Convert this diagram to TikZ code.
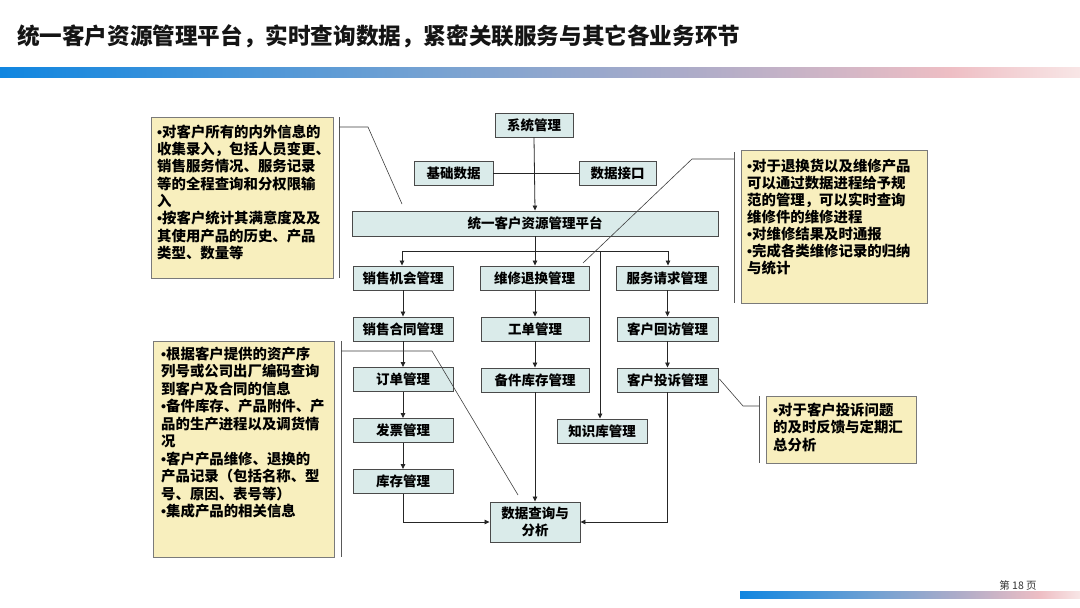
\documentclass[tikz,border=0pt]{standalone}
\usepackage{fontspec}
\usetikzlibrary{arrows.meta}
\setmainfont{Liberation Sans}
\newfontfamily\cjk{Noto Sans CJK SC}
\newfontfamily\latinf{Liberation Sans}
\newcommand\bul{{\latinf\char"2022}}
\definecolor{boxfill}{HTML}{DAEBEA}
\definecolor{boxline}{HTML}{4A4A4A}
\definecolor{notefill}{HTML}{F8EFBE}
\definecolor{noteline}{HTML}{7A7A7A}
\definecolor{barA}{RGB}{16,134,224}
\definecolor{barB}{RGB}{118,162,210}
\definecolor{barC}{RGB}{175,172,200}
\definecolor{barD}{RGB}{238,190,196}
\definecolor{barE}{RGB}{248,230,230}
\begin{document}
\begin{tikzpicture}[x=1pt,y=-1pt,
  box/.style={draw=boxline, line width=0.9pt, fill=boxfill, inner sep=0pt,
    font=\cjk\bfseries\fontsize{13.5}{17}\selectfont, minimum height=24pt, align=center},
  note/.style={draw=noteline, line width=0.9pt, fill=notefill},
  notetext/.style={anchor=base west, inner sep=0pt, font=\cjk\bfseries\fontsize{14.4}{17}\selectfont},
  conn/.style={draw=black!85, line width=0.8pt},
  arr/.style={conn, -{Triangle[length=5pt,width=4.5pt]}},
  leader/.style={draw=black!75, line width=0.6pt},
  bracket/.style={draw=black!65, line width=1pt}]
\useasboundingbox (0,0) rectangle (1080,608);
\fill[white] (0,0) rectangle (1080,608);

% title and bars
\node[anchor=west, inner sep=0pt, font=\cjk\bfseries\fontsize{22.6}{26}\selectfont, text=black!92] (title) at (17,36)
  {统一客户资源管理平台，实时查询数据，紧密关联服务与其它各业务环节};
\shade[left color=barA, right color=barB] (0,67.5) rectangle (430.5,77);
\shade[left color=barB, right color=barC] (430,67.5) rectangle (700.5,77);
\shade[left color=barC, right color=barD] (700,67.5) rectangle (950.5,77);
\shade[left color=barD, right color=barE] (950,67.5) rectangle (1080,77);

\shade[left color=barA, right color=barB] (740,591) rectangle (880.5,598);
\shade[left color=barB, right color=barC] (880,591) rectangle (960.5,598);
\shade[left color=barC, right color=barD] (960,591) rectangle (1040.5,598);
\shade[left color=barD, right color=barE] (1040,591) rectangle (1080,598);
\node[inner sep=0pt, font=\cjk\fontsize{10.5}{12}\selectfont, text=black!80] (pg) at (1018,585) {第 18 页};

% boxes
\node[box, minimum width=78pt] (sys) at (534,125) {系统管理};
\node[box, minimum width=79pt] (base) at (453.5,173) {基础数据};
\node[box, minimum width=77pt] (iface) at (617.5,173) {数据接口};
\node[box, minimum width=366pt, minimum height=25pt] (plat) at (535,223.5) {统一客户资源管理平台};
\node[box, minimum width=100pt] (sale) at (403,278) {销售机会管理};
\node[box, minimum width=109pt] (repair) at (534.5,278) {维修退换管理};
\node[box, minimum width=102pt] (svcreq) at (667,278) {服务请求管理};
\node[box, minimum width=100pt] (contract) at (403,329) {销售合同管理};
\node[box, minimum width=108pt] (work) at (535,329) {工单管理};
\node[box, minimum width=101pt] (visit) at (667.5,329) {客户回访管理};
\node[box, minimum width=100pt] (order) at (403,379.5) {订单管理};
\node[box, minimum width=108pt] (spare) at (535,380) {备件库存管理};
\node[box, minimum width=101pt] (complaint) at (667.5,380) {客户投诉管理};
\node[box, minimum width=100pt] (invoice) at (403,430.5) {发票管理};
\node[box, minimum width=90pt] (know) at (602,431) {知识库管理};
\node[box, minimum width=100pt] (stock) at (403,481.5) {库存管理};
\node[box, minimum width=90pt, minimum height=40pt] (query) at (535,522) {数据查询与\\分析};

% connectors
\draw[conn] (base.east) -- (iface.west);
\draw[arr] (sys.south) -- (plat.north);
\coordinate (j) at (535,251);
\coordinate (jl) at (402,251);
\coordinate (jr) at (668,251);
\coordinate (jk) at (600,251);
\draw[conn] (plat.south) -- (j);
\draw[conn] (jl) -- (jr);
\draw[arr] (jl) -- (sale.north -| jl);
\draw[arr] (j) -- (repair.north -| j);
\draw[arr] (jr) -- (svcreq.north -| jr);
\draw[arr] (jk) -- (know.north -| jk);
\draw[arr] (sale) -- (contract);
\draw[arr] (contract) -- (order);
\draw[arr] (order) -- (invoice);
\draw[arr] (invoice) -- (stock);
\draw[arr] (work.north |- repair.south) -- (work);
\draw[arr] (work) -- (spare);
\draw[arr] (spare) -- (query);
\draw[arr] (svcreq.south -| visit) -- (visit);
\draw[arr] (visit) -- (complaint);
\draw[arr] (stock.south) |- (query.west);
\draw[arr] (complaint.south) |- (query.east);

% callout boxes
\node[note, minimum width=182pt, minimum height=161pt, inner sep=0pt] (ntl) at (242,197.5) {};
\node[note, minimum width=186pt, minimum height=153pt, inner sep=0pt] (ntr) at (834,226.5) {};
\node[note, minimum width=181pt, minimum height=216pt, inner sep=0pt] (nbl) at (243.5,449) {};
\node[note, minimum width=150pt, minimum height=67pt, inner sep=0pt] (nbr) at (841,429.5) {};

% brackets and leaders
\coordinate (btl1) at (339,117); \coordinate (btl2) at (339,278);
\draw[bracket] (btl1) -- (btl2);
\coordinate (ltl0) at (339,127); \coordinate (ltl1) at (368,127); \coordinate (ltl2) at (402,204);
\draw[leader] (ltl0) -- (ltl1) -- (ltl2);

\coordinate (btr1) at (734,152); \coordinate (btr2) at (734,303);
\draw[bracket] (btr1) -- (btr2);
\coordinate (ltr0) at (734,159); \coordinate (ltr1) at (692,159); \coordinate (ltr2) at (583,263);
\draw[leader] (ltr0) -- (ltr1) -- (ltr2);

\coordinate (bbl1) at (341,341); \coordinate (bbl2) at (341,557);
\draw[bracket] (bbl1) -- (bbl2);
\coordinate (lbl0) at (341,351); \coordinate (lbl1) at (432,351); \coordinate (lbl2) at (518,495);
\draw[leader] (lbl0) -- (lbl1) -- (lbl2);

\coordinate (bbr1) at (759,396); \coordinate (bbr2) at (759,463);
\draw[bracket] (bbr1) -- (bbr2);
\coordinate (lbr1) at (743,406); \coordinate (lbr2) at (759,406);
\draw[leader] (complaint.east) ++(1,-1) coordinate (lbr0) -- (lbr1) -- (lbr2);

% callout texts
\foreach \t [count=\i] in {{\bul 对客户所有的内外信息的},{收集录入，包括人员变更、},{销售服务情况、服务记录},{等的全程查询和分权限输},{入},{\bul 按客户统计其满意度及及},{其使用产品的历史、产品},{类型、数量等}}
  \node[notetext, name=ttl\i] at (157,{137+17.35*(\i-1)}) {\t};
\foreach \t [count=\i] in {{\bul 对于退换货以及维修产品},{可以通过数据进程给予规},{范的管理，可以实时查询},{维修件的维修进程},{\bul 对维修结果及时通报},{\bul 完成各类维修记录的归纳},{与统计}}
  \node[notetext, name=ttr\i] at (747,{171.7+16.95*(\i-1)}) {\t};
\foreach \t [count=\i] in {{\bul 根据客户提供的资产序},{列号或公司出厂编码查询},{到客户及合同的信息},{\bul 备件库存、产品附件、产},{品的生产进程以及调货情},{况},{\bul 客户产品维修、退换的},{产品记录（包括名称、型},{号、原因、表号等）},{\bul 集成产品的相关信息}}
  \node[notetext, name=tbl\i] at (161,{359+17.5*(\i-1)}) {\t};
\foreach \t [count=\i] in {{\bul 对于客户投诉问题},{的及时反馈与定期汇},{总分析}}
  \node[notetext, name=tbr\i] at (773,{415+17.5*(\i-1)}) {\t};
\end{tikzpicture}
\end{document}
